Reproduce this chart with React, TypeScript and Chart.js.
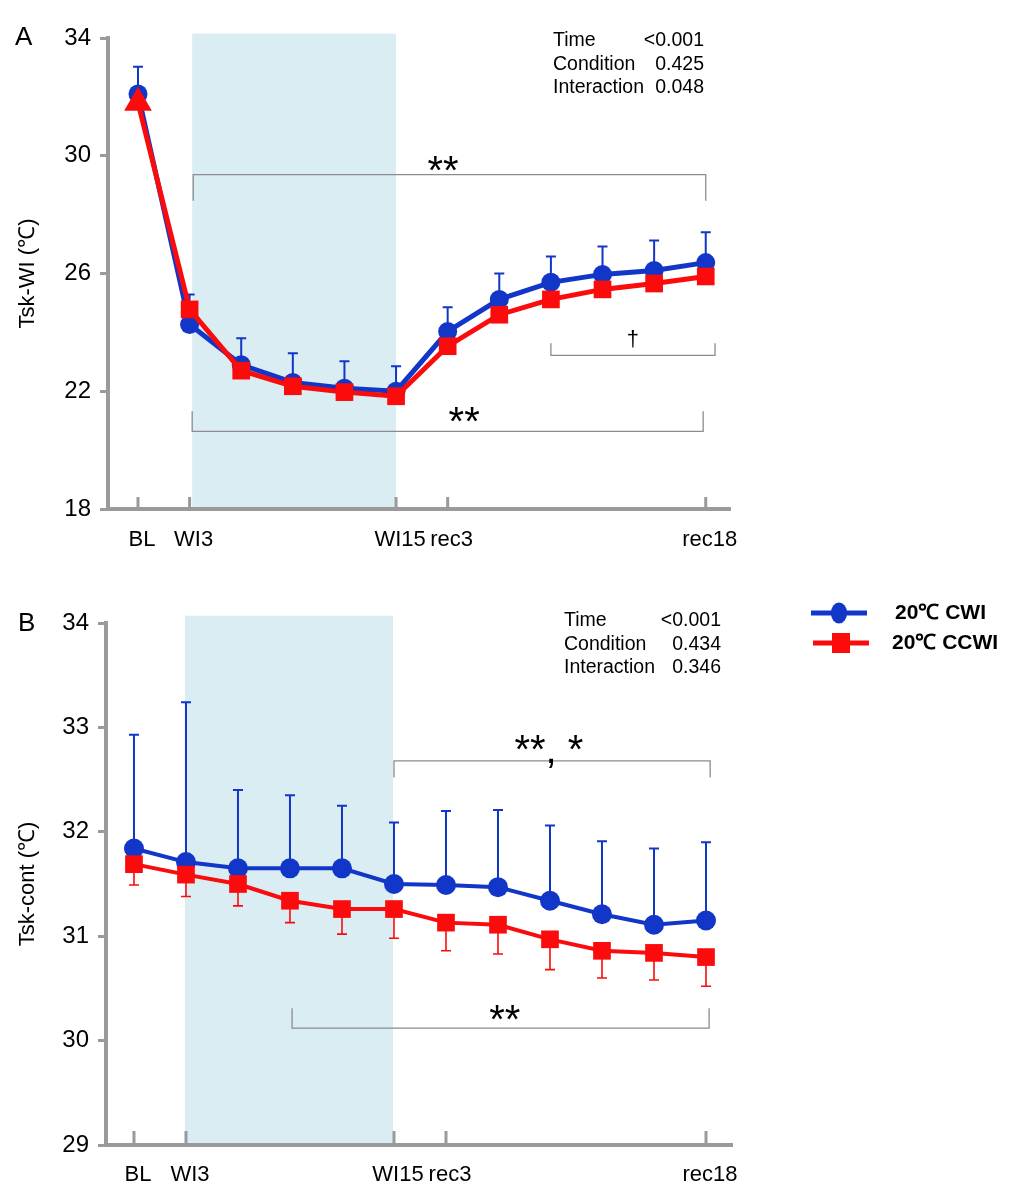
import React, { useEffect, useRef } from 'react';
import { Chart, registerables } from 'chart.js';

Chart.register(...registerables);

// ---------- data ----------
const TIME_POINTS = ['BL', 'WI3', 'WI6', 'WI9', 'WI12', 'WI15', 'rec3', 'rec6', 'rec9', 'rec12', 'rec15', 'rec18'];
const LABELED_POINTS = ['BL', 'WI3', 'WI15', 'rec3', 'rec18'];
const SERIES_NAMES = ['20℃ CWI', '20℃ CCWI'];

// Panel A: Tsk-WI
const A_CWI_MEAN = [32.1, 24.27, 22.9, 22.3, 22.1, 22.0, 24.03, 25.12, 25.7, 25.97, 26.1, 26.37];
const A_CWI_SD = [0.92, 1.02, 0.9, 0.99, 0.92, 0.85, 0.82, 0.88, 0.88, 0.95, 1.02, 1.03];
const A_CCWI_MEAN = [31.8, 24.78, 22.7, 22.17, 21.97, 21.83, 23.53, 24.6, 25.12, 25.46, 25.66, 25.9];
const A_Y_TICKS = [18, 22, 26, 30, 34];
const A_STATS = [['Time', '<0.001'], ['Condition', '0.425'], ['Interaction', '0.048']];

// Panel B: Tsk-cont
const B_CWI_MEAN = [31.84, 31.71, 31.65, 31.65, 31.65, 31.5, 31.49, 31.47, 31.34, 31.21, 31.11, 31.15];
const B_CWI_SD = [1.09, 1.53, 0.75, 0.7, 0.6, 0.59, 0.71, 0.74, 0.72, 0.7, 0.73, 0.75];
const B_CCWI_MEAN = [31.69, 31.59, 31.5, 31.34, 31.26, 31.26, 31.13, 31.11, 30.97, 30.86, 30.84, 30.8];
const B_CCWI_SD = [0.2, 0.21, 0.21, 0.21, 0.24, 0.28, 0.27, 0.28, 0.29, 0.26, 0.26, 0.28];
const B_Y_TICKS = [29, 30, 31, 32, 33, 34];
const B_STATS = [['Time', '<0.001'], ['Condition', '0.434'], ['Interaction', '0.346']];

// ---------- styles ----------
const FONT = '"Liberation Sans", Arial, Helvetica, sans-serif';
const BLUE = '#1236c8';
const RED = '#fb0b0b';
const SHADE = '#daedf3';
const AXIS_GRAY = '#9a9a9a';
const BRACKET_GRAY = '#8c8c8c';

type Bracket = { x1: number; x2: number; y: number; yEnd: number; label: string; lx: number; ly: number; dagger?: boolean };

interface PanelSpec {
  letter: string;
  letterX: number;
  letterY: number;
  width: number;
  height: number;
  padTop: number;
  padRight: number;
  yAxisWidth: number;
  xAxisHeight: number;
  xMin: number;
  xMax: number;
  xLabelPad: number;
  yTitle: string;
  yTicks: number[];
  cwiMean: number[];
  cwiSd: number[];
  ccwiMean: number[];
  ccwiSd: number[] | null;
  firstRedTriangle: boolean;
  lineWidth: number;
  circleR: number;
  rectR: number;
  shade: [number, number, number];
  brackets: Bracket[];
  stats: string[][];
  statsLeft: number;
  statsRight: number;
  statsBaselines: number[];
  xTickLen: number;
  legend: boolean;
}

const A_SPEC: PanelSpec = {
  letter: 'A', letterX: 15, letterY: 38,
  width: 1020, height: 580, padTop: 38, padRight: 290, yAxisWidth: 108, xAxisHeight: 71,
  xMin: -0.581, xMax: 11.47, xLabelPad: 10,
  yTitle: 'Tsk-WI (℃)', yTicks: A_Y_TICKS,
  cwiMean: A_CWI_MEAN, cwiSd: A_CWI_SD, ccwiMean: A_CCWI_MEAN, ccwiSd: null,
  firstRedTriangle: true, lineWidth: 5, circleR: 9.5, rectR: 12.5,
  shade: [1.05, 5.0, 34.15],
  brackets: [
    { x1: 1.07, x2: 11.0, y: 29.36, yEnd: 28.47, label: '**', lx: 5.91, ly: 29.83 },
    { x1: 1.05, x2: 10.95, y: 20.64, yEnd: 21.32, label: '**', lx: 6.32, ly: 21.29 },
    { x1: 8.0, x2: 11.18, y: 23.22, yEnd: 23.63, label: '†', lx: 9.59, ly: 23.73, dagger: true },
  ],
  stats: A_STATS, statsLeft: 553, statsRight: 704, statsBaselines: [46, 69.5, 93],
  xTickLen: 12, legend: false,
};

const B_SPEC: PanelSpec = {
  letter: 'B', letterX: 18, letterY: 44,
  width: 1020, height: 620, padTop: 43, padRight: 288, yAxisWidth: 106, xAxisHeight: 55,
  xMin: -0.538, xMax: 11.5, xLabelPad: 9,
  yTitle: 'Tsk-cont (℃)', yTicks: B_Y_TICKS,
  cwiMean: B_CWI_MEAN, cwiSd: B_CWI_SD, ccwiMean: B_CCWI_MEAN, ccwiSd: B_CCWI_SD,
  firstRedTriangle: false, lineWidth: 4, circleR: 10, rectR: 12.5,
  shade: [0.98, 4.98, 34.07],
  brackets: [
    { x1: 5.0, x2: 11.08, y: 32.68, yEnd: 32.52, label: '**, *', lx: 7.98, ly: 32.88 },
    { x1: 3.04, x2: 11.06, y: 30.12, yEnd: 30.31, label: '**', lx: 7.13, ly: 30.29 },
  ],
  stats: B_STATS, statsLeft: 564, statsRight: 721, statsBaselines: [46, 69.5, 93],
  xTickLen: 14, legend: true,
};

function drawMarker(ctx: CanvasRenderingContext2D, style: string, x: number, y: number, r: number, color: string) {
  ctx.fillStyle = color;
  ctx.beginPath();
  if (style === 'circle') {
    ctx.ellipse(x, y, r * 0.85, r * 1.1, 0, 0, Math.PI * 2);
  } else {
    ctx.rect(x - 9, y - 10, 18, 20);
  }
  ctx.fill();
}

function makePlugin(spec: PanelSpec) {
  return {
    id: 'panelDecor',
    beforeDraw(chart: any) {
      const { ctx, chartArea, scales } = chart;
      const x = scales.x, y = scales.y;
      const l = x.getPixelForValue(spec.shade[0]);
      const r = x.getPixelForValue(spec.shade[1]);
      const t = y.getPixelForValue(spec.shade[2]);
      ctx.save();
      ctx.fillStyle = SHADE;
      ctx.fillRect(l, t, r - l, chartArea.bottom - t);
      ctx.restore();
    },
    beforeDatasetsDraw(chart: any) {
      const { ctx, scales } = chart;
      const y = scales.y;
      ctx.save();
      chart.data.datasets.forEach((ds: any, i: number) => {
        const meta = chart.getDatasetMeta(i);
        const drawBars = (sd: number[] | null, dir: number, color: string, w: number) => {
          if (!sd) return;
          ctx.strokeStyle = color;
          ctx.lineWidth = w;
          meta.data.forEach((pt: any, j: number) => {
            const v = ds.data[j].y + dir * sd[j];
            const py = y.getPixelForValue(v);
            ctx.beginPath();
            ctx.moveTo(pt.x, pt.y);
            ctx.lineTo(pt.x, py);
            ctx.moveTo(pt.x - 5, py);
            ctx.lineTo(pt.x + 5, py);
            ctx.stroke();
          });
        };
        drawBars(ds.errUp || null, 1, ds.borderColor, 2);
        drawBars(ds.errDown || null, -1, ds.borderColor, 1.6);
      });
      ctx.restore();
    },
    afterDraw(chart: any) {
      const { ctx, chartArea, scales } = chart;
      const x = scales.x, y = scales.y;
      ctx.save();
      // upward x tick marks
      ctx.strokeStyle = AXIS_GRAY;
      ctx.lineWidth = 3;
      LABELED_POINTS.forEach((lab) => {
        const px = x.getPixelForValue(TIME_POINTS.indexOf(lab));
        ctx.beginPath();
        ctx.moveTo(px, chartArea.bottom);
        ctx.lineTo(px, chartArea.bottom - spec.xTickLen);
        ctx.stroke();
      });
      // brackets
      spec.brackets.forEach((b) => {
        const x1 = x.getPixelForValue(b.x1), x2 = x.getPixelForValue(b.x2);
        const yl = y.getPixelForValue(b.y), ye = y.getPixelForValue(b.yEnd);
        ctx.strokeStyle = BRACKET_GRAY;
        ctx.lineWidth = 1.3;
        ctx.beginPath();
        ctx.moveTo(x1, ye);
        ctx.lineTo(x1, yl);
        ctx.lineTo(x2, yl);
        ctx.lineTo(x2, ye);
        ctx.stroke();
        const lx = x.getPixelForValue(b.lx), ly = y.getPixelForValue(b.ly);
        ctx.fillStyle = '#000';
        ctx.textAlign = 'center';
        ctx.textBaseline = 'alphabetic';
        if (b.dagger) {
          ctx.font = `22px ${FONT}`;
          ctx.fillText(b.label, lx, ly + 6);
        } else {
          ctx.font = `40px ${FONT}`;
          ctx.fillText(b.label, lx, ly + 23);
        }
      });
      // stats text
      ctx.fillStyle = '#000';
      ctx.font = `19.5px ${FONT}`;
      spec.stats.forEach((row, i) => {
        ctx.textAlign = 'left';
        ctx.fillText(row[0], spec.statsLeft, spec.statsBaselines[i]);
        ctx.textAlign = 'right';
        ctx.fillText(row[1], spec.statsRight, spec.statsBaselines[i]);
      });
      // panel letter
      ctx.font = `26px ${FONT}`;
      ctx.textAlign = 'left';
      ctx.textBaseline = 'middle';
      ctx.fillText(spec.letter, spec.letterX, spec.letterY);
      // legend
      if (spec.legend) {
        const rows = [
          { x1: 811, x2: 867, y: 33, tx: 895 },
          { x1: 813, x2: 869, y: 63, tx: 892 },
        ];
        chart.data.datasets.forEach((ds: any, i: number) => {
          const r = rows[i];
          ctx.strokeStyle = ds.borderColor;
          ctx.lineWidth = 5;
          ctx.beginPath();
          ctx.moveTo(r.x1, r.y);
          ctx.lineTo(r.x2, r.y);
          ctx.stroke();
          drawMarker(ctx, i === 0 ? 'circle' : 'rect', (r.x1 + r.x2) / 2, r.y, 9.5, ds.borderColor);
          ctx.fillStyle = '#000';
          ctx.font = `bold 21px ${FONT}`;
          ctx.textAlign = 'left';
          ctx.textBaseline = 'middle';
          ctx.fillText(ds.label, r.tx, r.y);
        });
      }
      ctx.restore();
    },
  };
}

function buildConfig(spec: PanelSpec): any {
  const redStyles = spec.ccwiMean.map((_, i) => (spec.firstRedTriangle && i === 0 ? 'triangle' : 'rect'));
  const redRadii = spec.ccwiMean.map((_, i) => (spec.firstRedTriangle && i === 0 ? 16 : spec.rectR));
  return {
    type: 'line',
    data: {
      datasets: [
        {
          label: SERIES_NAMES[0],
          data: spec.cwiMean.map((v, i) => ({ x: i, y: v })),
          borderColor: BLUE,
          backgroundColor: BLUE,
          borderWidth: spec.lineWidth,
          pointStyle: 'circle',
          pointRadius: spec.circleR,
          pointBorderWidth: 0,
          pointBackgroundColor: BLUE,
          tension: 0,
          clip: false,
          order: 1,
          errUp: spec.cwiSd,
        },
        {
          label: SERIES_NAMES[1],
          data: spec.ccwiMean.map((v, i) => ({ x: i, y: v })),
          borderColor: RED,
          backgroundColor: RED,
          borderWidth: spec.lineWidth,
          pointStyle: redStyles,
          pointRadius: redRadii,
          pointBorderWidth: 0,
          pointBackgroundColor: RED,
          tension: 0,
          clip: false,
          order: 0,
          errDown: spec.ccwiSd,
        },
      ],
    },
    options: {
      responsive: false,
      animation: false,
      devicePixelRatio: 1,
      events: [],
      layout: { padding: { top: spec.padTop, right: spec.padRight, bottom: 0, left: 0 } },
      plugins: { legend: { display: false }, tooltip: { enabled: false }, title: { display: false } },
      scales: {
        x: {
          type: 'linear',
          min: spec.xMin,
          max: spec.xMax,
          afterBuildTicks: (scale: any) => {
            scale.ticks = LABELED_POINTS.map((l) => ({ value: TIME_POINTS.indexOf(l) }));
          },
          afterFit: (scale: any) => {
            scale.height = spec.xAxisHeight;
          },
          grid: { display: false },
          border: { display: true, color: AXIS_GRAY, width: 4 },
          ticks: {
            autoSkip: false,
            maxRotation: 0,
            minRotation: 0,
            padding: spec.xLabelPad,
            labelOffset: 4,
            color: '#000',
            font: { size: 22, family: FONT },
            callback: (v: number) => TIME_POINTS[Math.round(v)],
          },
        },
        y: {
          type: 'linear',
          min: spec.yTicks[0],
          max: spec.yTicks[spec.yTicks.length - 1],
          afterBuildTicks: (scale: any) => {
            scale.ticks = spec.yTicks.map((v) => ({ value: v }));
          },
          afterFit: (scale: any) => {
            scale.width = spec.yAxisWidth;
          },
          grid: { display: true, drawOnChartArea: false, drawTicks: true, tickLength: 8, color: AXIS_GRAY, lineWidth: 3 },
          border: { display: true, color: AXIS_GRAY, width: 4 },
          ticks: { padding: 9, color: '#000', font: { size: 24, family: FONT } },
          title: {
            display: true,
            text: spec.yTitle,
            color: '#000',
            font: { size: 22, family: FONT },
            padding: { top: 15, bottom: 0 },
          },
        },
      },
    },
    plugins: [makePlugin(spec)],
  };
}

function Panel({ spec, top }: { spec: PanelSpec; top: number }) {
  const ref = useRef<HTMLCanvasElement | null>(null);
  useEffect(() => {
    if (!ref.current) return;
    const chart = new Chart(ref.current, buildConfig(spec));
    return () => chart.destroy();
  }, [spec]);
  return (
    <canvas
      ref={ref}
      width={spec.width}
      height={spec.height}
      style={{ position: 'absolute', left: 0, top, width: spec.width, height: spec.height, display: 'block' }}
    />
  );
}

export default function App() {
  return (
    <div style={{ position: 'absolute', left: 0, top: 0, width: 1020, height: 1200, background: '#fff' }}>
      <Panel spec={A_SPEC} top={0} />
      <Panel spec={B_SPEC} top={580} />
    </div>
  );
}
